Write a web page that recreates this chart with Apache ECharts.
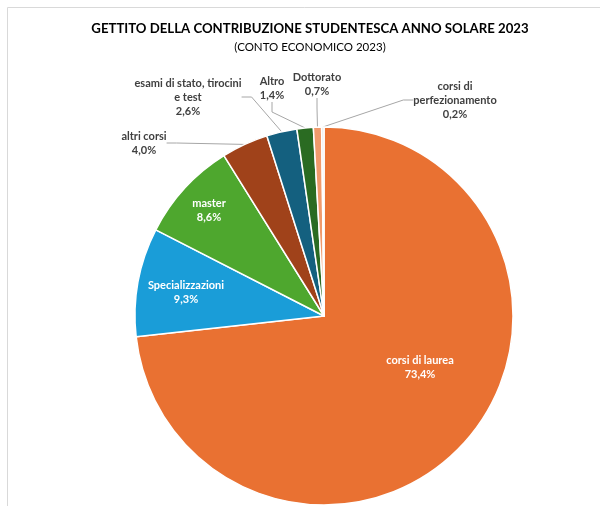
<!DOCTYPE html>
<html>
<head>
<meta charset="utf-8">
<script src="https://cdn.jsdelivr.net/npm/echarts@6/dist/echarts.min.js"></script>
<style>
html,body{margin:0;padding:0;background:#fff;}
#c{width:600px;height:506px;}
</style>
</head>
<body>
<div id="c"></div>
<script>
const categories = ['corsi di laurea','Specializzazioni','master','altri corsi','esami di stato, tirocini\ne test','Altro','Dottorato','corsi di\nperfezionamento'];
const values = [73.4, 9.3, 8.6, 4.0, 2.6, 1.4, 0.7, 0.2];
const colors = ['#E97132','#1A9DD8','#4EA72E','#A0421A','#14607F','#2A6B22','#F09A6C','#E6E6E6'];
const insideLabel = [true, true, true, false, false, false, false, false];
// label block centres (layout only)
const labelPos = [[420,367],[186,292],[209,210],[144,143],[188,97],[272,88],[317,84],[455,100]];

const chart = echarts.init(document.getElementById('c'), null, {renderer:'canvas'});
const fmt = v => v.toFixed(1).replace('.', ',') + '%';

chart.setOption({
  animation:false,
  graphic:[{type:'rect', shape:{x:7.5,y:7.5,width:800,height:800}, style:{fill:'none', stroke:'#D9D9D9', lineWidth:1}, silent:true}],
  title:{
    text:'GETTITO DELLA CONTRIBUZIONE STUDENTESCA ANNO SOLARE 2023',
    subtext:'(CONTO ECONOMICO 2023)',
    left:305, top:17, textAlign:'center', itemGap:6,
    textStyle:{fontFamily:'Lato', fontWeight:'bold', fontSize:13.2, color:'#000'},
    subtextStyle:{fontFamily:'Lato', fontSize:11.5, color:'#000'}
  },
  series:[{
    type:'pie',
    center:[324,316],
    radius:[0,189],
    startAngle:90,
    clockwise:true,
    avoidLabelOverlap:false,
    itemStyle:{borderColor:'#fff', borderWidth:1.5},
    data: categories.map((n,i)=>({
      name:n, value:values[i],
      itemStyle:{color:colors[i]},
      label:{
        color: insideLabel[i] ? '#fff' : '#404040',
        position: insideLabel[i] ? 'inside' : 'outside'
      },
      labelLine:{show: !insideLabel[i]}
    })),
    label:{
      formatter: p => p.name + '\n' + fmt(p.value),
      fontFamily:'Lato', fontWeight:'bold', fontSize:11, lineHeight:14, align:'center'
    },
    labelLine:{lineStyle:{color:'#A6A6A6', width:1}, length:10, length2:10},
    labelLayout: p => ({x: labelPos[p.dataIndex][0], y: labelPos[p.dataIndex][1], align:'center', verticalAlign:'middle'})
  }]
});
</script>
</body>
</html>
